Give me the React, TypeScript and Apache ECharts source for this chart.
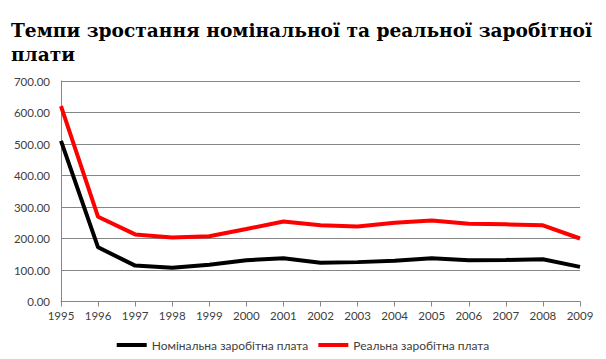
import React, { useEffect, useRef } from "react";
import * as echarts from "echarts";

const years = ["1995","1996","1997","1998","1999","2000","2001","2002","2003","2004","2005","2006","2007","2008","2009"];
const nominal = [510, 172, 114, 107, 117, 131, 137, 123, 125, 129, 137, 131, 132, 134, 110];
const real = [620, 269, 213, 203, 207, 230, 254, 242, 238, 250, 257, 247, 245, 242, 200];
const titleText = "Темпи зростання номінальної та реальної заробітної\nплати";
const seriesNames = ["Номінальна заробітна плата", "Реальна заробітна плата"];

export default function App() {
  const ref = useRef<HTMLDivElement>(null);
  useEffect(() => {
    const chart = echarts.init(ref.current!, undefined, { renderer: "svg" });
    chart.setOption({
      animation: false,
      backgroundColor: "#ffffff",
      title: {
        text: titleText,
        left: 11,
        top: 18,
        padding: 0,
        textStyle: {
          fontFamily: "DejaVu Serif",
          fontWeight: "bold",
          fontSize: 18.6,
          color: "#000",
          lineHeight: 24,
        },
      },
      legend: {
        bottom: 3,
        left: "center",
        itemWidth: 30,
        itemHeight: 4,
        itemGap: 10,
        icon: "rect",
        textStyle: { fontFamily: "Lato", fontSize: 12, color: "#404040" },
        data: seriesNames,
      },
      grid: { left: 61, right: 26, top: 81, bottom: 57.5 },
      xAxis: {
        type: "category",
        data: years,
        boundaryGap: false,
        axisLine: { lineStyle: { color: "#868686" } },
        axisTick: { show: true, length: 5, lineStyle: { color: "#868686" } },
        axisLabel: { fontFamily: "Lato", fontSize: 11.5, color: "#404040", margin: 8, interval: 0 },
      },
      yAxis: {
        type: "value",
        min: 0,
        max: 700,
        interval: 100,
        axisLine: { show: true, lineStyle: { color: "#868686" } },
        axisTick: { show: false },
        splitLine: { lineStyle: { color: "#868686" } },
        axisLabel: {
          fontFamily: "Lato",
          fontSize: 11.5,
          color: "#404040",
          margin: 11,
          formatter: (v: number) => v.toFixed(2),
        },
      },
      series: [
        {
          name: seriesNames[0],
          type: "line",
          data: nominal,
          symbol: "none",
          color: "#000000",
          lineStyle: { width: 4, color: "#000000" },
        },
        {
          name: seriesNames[1],
          type: "line",
          data: real,
          symbol: "none",
          color: "#ff0000",
          lineStyle: { width: 4, color: "#ff0000" },
        },
      ],
    });
    return () => chart.dispose();
  }, []);
  return (
    <div
      ref={ref}
      style={{ position: "fixed", left: 0, top: 0, width: 606, height: 359 }}
    />
  );
}
